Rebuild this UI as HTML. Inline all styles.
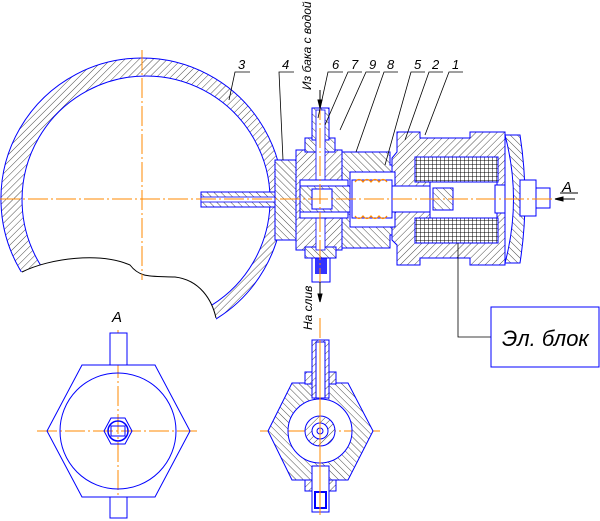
<!DOCTYPE html>
<html><head><meta charset="utf-8"><style>
html,body{margin:0;padding:0;background:#fff;}
svg{display:block;}
text{font-family:"Liberation Sans","DejaVu Sans",sans-serif;font-style:italic;fill:#000;}
</style></head><body>
<svg width="600" height="521" viewBox="0 0 600 521" xmlns="http://www.w3.org/2000/svg">
<defs>
<pattern id="h" width="5" height="5" patternUnits="userSpaceOnUse" patternTransform="rotate(45)">
<rect width="5" height="5" fill="#fff"/><line x1="0" y1="0" x2="0" y2="5" stroke="#000" stroke-width="0.7"/></pattern>
<pattern id="h2" width="5" height="5" patternUnits="userSpaceOnUse" patternTransform="rotate(-45)">
<rect width="5" height="5" fill="#fff"/><line x1="0" y1="0" x2="0" y2="5" stroke="#000" stroke-width="0.7"/></pattern>
<pattern id="g" width="4" height="4" patternUnits="userSpaceOnUse">
<rect width="4" height="4" fill="#fff"/><path d="M0 0H4M0 0V4" stroke="#000" stroke-width="1"/></pattern>
</defs>

<!-- tank -->
<path fill-rule="evenodd" fill="url(#h)" stroke="#00f" stroke-width="1" d="M142,58 a141,141 0 1,1 -0.1,0 Z M146,76 a124,124 0 1,0 0.1,0 Z"/>
<path fill="#fff" d="M0,275 L22,272 C50,258 100,252 130,265 C140,278 150,276 175,277 C200,280 212,300 216,318 L216,350 L0,350 Z"/>
<path fill="none" stroke="#000" stroke-width="1" d="M22,272 C50,258 100,252 130,265 C140,278 150,276 175,277 C200,280 212,300 216,318"/>
<!-- pipe -->
<rect x="201" y="192" width="98" height="15" fill="url(#h2)" stroke="#00f"/>
<rect x="201" y="197" width="98" height="5" fill="#fff" stroke="#00f" stroke-width="0.8"/>
<!-- flange 4 -->
<rect x="275" y="160" width="21" height="80" fill="url(#h2)" stroke="#00f"/>
<!-- central block -->
<rect x="296" y="150" width="46" height="100" fill="url(#h)" stroke="#00f"/>
<rect x="305" y="138" width="30" height="14" fill="url(#h2)" stroke="#00f"/>
<rect x="312" y="108" width="17" height="32" fill="url(#h2)" stroke="#00f"/>
<rect x="305" y="247" width="31" height="11" fill="url(#h2)" stroke="#00f"/>
<rect x="312" y="258" width="18" height="24" fill="#fff" stroke="#00f"/>
<rect x="315" y="258" width="12" height="16" fill="#00f" opacity="0.8"/>
<!-- housing 5/2 -->
<path d="M342,152 H390 V165 H400 V235 H390 V248 H342 Z" fill="url(#h2)" stroke="#00f"/>
<!-- magnet body -->
<path d="M397,132 H420 V138 H470 V132 H505 V265 H470 V258 H420 V265 H397 V245 L392,240 V158 L397,152 Z" fill="url(#h)" stroke="#00f"/>
<path d="M505,135 Q522,199 505,263 H520 Q530,199 520,135 Z" fill="url(#h2)" stroke="#00f"/>
<!-- cavities -->
<rect x="316" y="110" width="9" height="140" fill="#fff" stroke="#00f" stroke-width="0.8"/>
<rect x="300" y="180" width="48" height="38" fill="#fff" stroke="#00f"/>
<rect x="300" y="186" width="50" height="26" fill="url(#h2)" stroke="#00f"/>
<rect x="312" y="189" width="20" height="20" fill="#fff" stroke="#00f"/>
<rect x="350" y="172" width="45" height="55" fill="#fff" stroke="#00f"/>
<rect x="352" y="180" width="40" height="38" fill="#fff" stroke="#00f"/>
<g stroke="#f80" stroke-width="1.2" fill="none">
<path d="M355,182 q4,-5 8,0 q4,-5 8,0 q4,-5 8,0 q4,-5 8,0"/>
<path d="M355,216 q4,5 8,0 q4,5 8,0 q4,5 8,0 q4,5 8,0"/>
</g>
<rect x="392" y="186" width="42" height="26" fill="#fff" stroke="#00f"/>
<rect x="415" y="157" width="83" height="25" fill="url(#g)" stroke="#00f"/>
<rect x="415" y="218" width="83" height="25" fill="url(#g)" stroke="#00f"/>
<rect x="430" y="182" width="67" height="36" fill="#fff" stroke="#00f"/>
<rect x="433" y="188" width="20" height="22" fill="url(#h2)" stroke="#00f"/>
<rect x="495" y="185" width="10" height="28" fill="#fff" stroke="#00f"/>
<!-- nut and screw -->
<rect x="520" y="180" width="16" height="36" fill="#fff" stroke="#00f"/>
<rect x="536" y="188" width="14" height="20" fill="#fff" stroke="#00f"/>
<!-- centerlines -->
<g stroke="#f80" stroke-width="1" stroke-dasharray="20,3,2,3">
<line x1="0" y1="199" x2="560" y2="199"/>
<line x1="142" y1="50" x2="142" y2="280"/>
<line x1="320" y1="100" x2="320" y2="290"/>
<line x1="320" y1="318" x2="320" y2="515"/>
<line x1="118" y1="330" x2="118" y2="520"/>
<line x1="37" y1="431" x2="200" y2="431"/>
<line x1="260" y1="431" x2="380" y2="431"/>
</g>
<!-- arrows -->
<g stroke="#000" stroke-width="1">
<line x1="320" y1="90" x2="320" y2="108"/><path d="M318,100 L320,108 L322,100Z"/>
<line x1="320" y1="282" x2="320" y2="302"/><path d="M318,294 L320,302 L322,294Z"/>
<line x1="575" y1="199" x2="555" y2="199"/><path d="M563,197 L555,199 L563,201Z"/>
<line x1="560" y1="193" x2="578" y2="193"/>
</g>
<text x="562" y="192" font-size="15">A</text>
<text transform="translate(311,90) rotate(-90)" font-size="12">Из бака с водой</text>
<text transform="translate(312,330) rotate(-90)" font-size="12">На слив</text>
<!-- leaders -->
<g stroke="#000" stroke-width="0.8" fill="none">
<path d="M250,72 H235 L229,100"/>
<path d="M294,72 H279 L283,160"/>
<path d="M343,72 H328 L318,118"/>
<path d="M362,72 H348 L325,125"/>
<path d="M380,72 H366 L340,130"/>
<path d="M398,72 H384 L356,152"/>
<path d="M425,72 H411 L385,165"/>
<path d="M443,72 H429 L405,140"/>
<path d="M463,72 H449 L425,135"/>
<path d="M458,243 V337 H491"/>
</g>
<g font-size="13">
<text x="238" y="69">3</text><text x="282" y="69">4</text>
<text x="332" y="69">6</text><text x="351" y="69">7</text><text x="369" y="69">9</text>
<text x="387" y="69">8</text><text x="414" y="69">5</text><text x="432" y="69">2</text><text x="452" y="69">1</text>
</g>
<rect x="491" y="307" width="108" height="60" fill="#fff" stroke="#00f"/>
<text x="502" y="346" font-size="22">Эл. блок</text>
<!-- view A -->
<text x="112" y="322" font-size="15">A</text>
<rect x="110" y="333" width="17" height="32" fill="#fff" stroke="#00f"/>
<rect x="110" y="497" width="17" height="21" fill="#fff" stroke="#00f"/>
<polygon points="47,431 82,365 155,365 190,431 155,497 82,497" fill="none" stroke="#00f"/>
<circle cx="118" cy="431" r="58" fill="none" stroke="#00f"/>
<polygon points="104,431 111,418 125,418 132,431 125,444 111,444" fill="none" stroke="#00f"/>
<circle cx="118" cy="431" r="10" fill="none" stroke="#00f" stroke-width="1.5"/>
<rect x="111" y="426" width="14" height="10" fill="none" stroke="#00f"/>
<!-- section view -->
<path fill-rule="evenodd" fill="url(#h2)" stroke="#00f" d="M268,431 L292,383 L348,383 L373,431 L348,480 L292,480 Z M352,431 a32,32 0 1,0 -64,0 a32,32 0 1,0 64,0 Z"/>
<rect x="305" y="372" width="31" height="12" fill="url(#h)" stroke="#00f"/>
<rect x="312" y="340" width="17" height="58" fill="url(#h)" stroke="#00f"/>
<rect x="316" y="342" width="9" height="56" fill="#fff" stroke="#00f"/>
<rect x="305" y="480" width="31" height="11" fill="url(#h)" stroke="#00f"/>
<rect x="312" y="466" width="17" height="46" fill="#fff" stroke="#00f"/>
<rect x="315" y="492" width="11" height="16" fill="none" stroke="#00f" stroke-width="2"/>
<circle cx="320" cy="431" r="15" fill="url(#h)" stroke="#00f"/>
<circle cx="320" cy="431" r="8" fill="#fff" stroke="#00f"/>
<circle cx="320" cy="431" r="3" fill="none" stroke="#00f"/>
<line x1="320" y1="340" x2="320" y2="515" stroke="#f80"/>
</svg>
</body></html>
